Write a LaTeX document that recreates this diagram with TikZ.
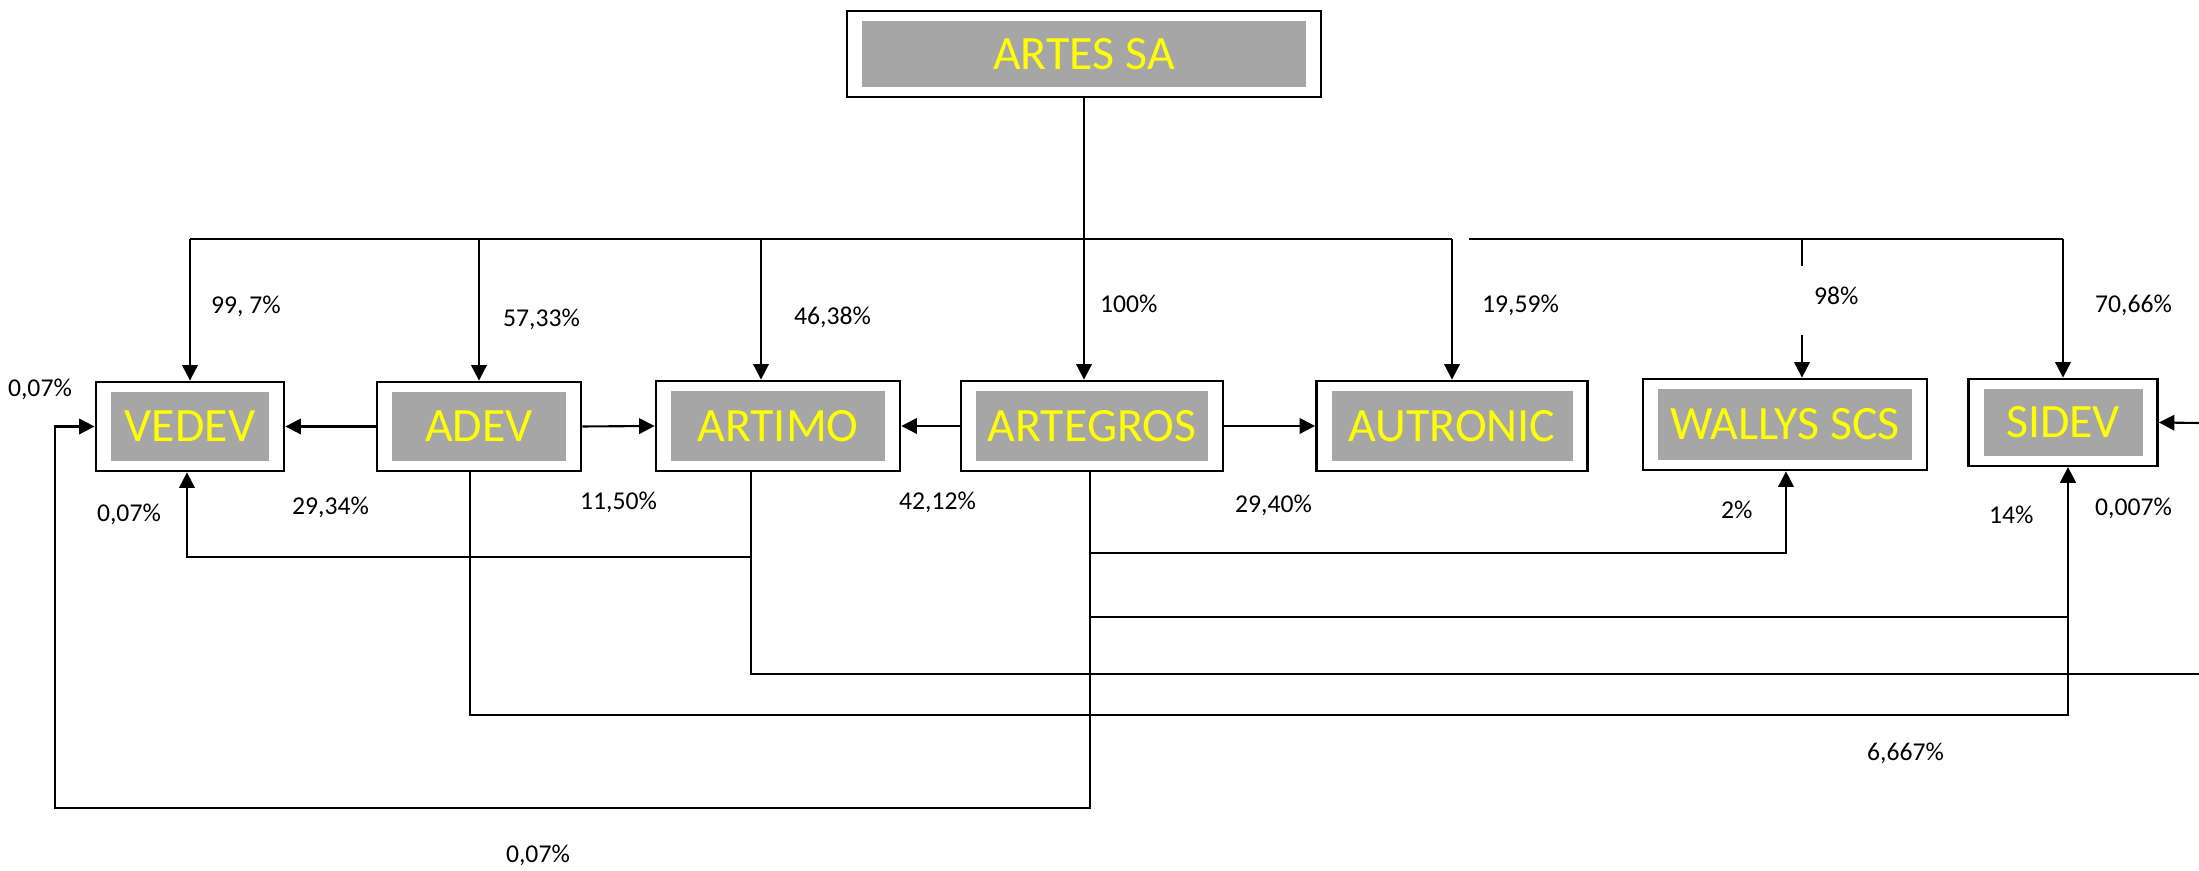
\documentclass[tikz,border=0pt]{standalone}
\usepackage{fontspec}
\setmainfont{Carlito}
\usetikzlibrary{arrows.meta}
\definecolor{boxgray}{HTML}{A6A6A6}
\definecolor{boxyellow}{HTML}{FFFF00}
\tikzset{
  firmframe/.style={draw, fill=white, line width=0.8pt, inner sep=0pt},
  firmfill/.style={fill=boxgray, text=boxyellow, inner sep=0pt,
    font=\fontsize{13.6pt}{15pt}\selectfont},
  pct/.style={anchor=west, inner sep=0pt, font=\fontsize{7.3pt}{8pt}\selectfont}
}
% name, x, y, width, height, text
\newcommand{\company}[6]{%
  \node[firmframe, minimum width=#4*0.01cm, minimum height=#5*0.01cm] (#1) at (#2,#3) {};
  \node[firmfill, minimum width=(#4-30)*0.01cm, minimum height=(#5-20)*0.01cm] (#1txt) at (#1) {#6};
}

\begin{document}
\begin{tikzpicture}[x=0.01cm, y=-0.01cm, line width=0.6pt,
% arrow heads for all connectors
-{Triangle[length=4.4pt,width=4.4pt]}]
\useasboundingbox (0,0) rectangle (2199,871);

\company{artes}{1084}{54}{474}{86}{ARTES SA}
\company{vedev}{190}{426.5}{188}{89}{VEDEV}
\company{adev}{479}{426.5}{204}{89}{ADEV}
\company{artimo}{778}{426}{244}{90}{ARTIMO}
\company{artegros}{1092}{426}{262}{90}{ARTEGROS}
\company{autronic}{1452}{426}{271}{90}{AUTRONIC}
\company{wallys}{1785}{424.5}{284}{91}{WALLYS SCS}
\company{sidev}{2063}{422.5}{189}{87}{SIDEV}

% trunk and bus
\draw (artes.south) -- (artes.south |- artegros.north);
\draw[-] (vedev.north |- 0,239) -- (autronic.north |- 0,239);
\draw[-] (1469,239) -- (sidev.north |- 0,239);
\foreach \n in {vedev,adev,autronic,sidev}
  \draw (\n.north |- 0,239) -- (\n.north);
\draw (761,239) -- (761,0 |- artimo.north);
\draw[-] (1802,239) -- (1802,266);
\draw (1802,335) -- (1802,0 |- wallys.north);

% side links
\draw (adev.west) -- (vedev.east);
\draw (adev.east) -- (artimo.west);
\draw (artegros.west) -- (artimo.east);
\draw (artegros.east) -- (autronic.west);

% links below
\draw (artimo.south -| 751,0) |- (187,557) -- (vedev.south -| 187,0);
\draw (adev.south -| 470,0) |- (2068,715) -- (sidev.south -| 2068,0);
\draw (artegros.south -| 1090,0) |- (2068,617) -- (sidev.south -| 2068,0);
\draw (artegros.south -| 1090,0) |- (1786,553) -- (wallys.south -| 1786,0);
\draw (artegros.south -| 1090,0) |- (55,808) |- (vedev.west);
\coordinate (rimlow) at (2199,674);
\coordinate (rimup) at (2199,423);
\draw[-] (artimo.south -| 751,0) |- (rimlow);
\draw (rimup) -- (sidev.east);

% shares
\node[pct] (pvedev) at (210,306) {99, 7\%};
\node[pct] (padev) at (502,319) {57,33\%};
\node[pct] (partimo) at (793,317) {46,38\%};
\node[pct] (partegros) at (1099,304) {100\%};
\node[pct] (pautronic) at (1481,305) {19,59\%};
\node[pct] (pwallys) at (1813,296) {98\%};
\node[pct] (psidev) at (2094,305) {70,66\%};
\node[pct] (qvedev) at (7,389) {0,07\%};
\node[pct] (rvedev) at (96,514) {0,07\%};
\node[pct] (qadev) at (291,507) {29,34\%};
\node[pct] (qartimo) at (579,502) {11,50\%};
\node[pct] (qartegros) at (898,502) {42,12\%};
\node[pct] (qautronic) at (1234,505) {29,40\%};
\node[pct] (qwallys) at (1720,510) {2\%};
\node[pct] (qsidev) at (1988,515) {14\%};
\node[pct] (rsidev) at (2094,508) {0,007\%};
\node[pct] (ssidev) at (1866,753) {6,667\%};
\node[pct] (svedev) at (505,855) {0,07\%};
\end{tikzpicture}
\end{document}
